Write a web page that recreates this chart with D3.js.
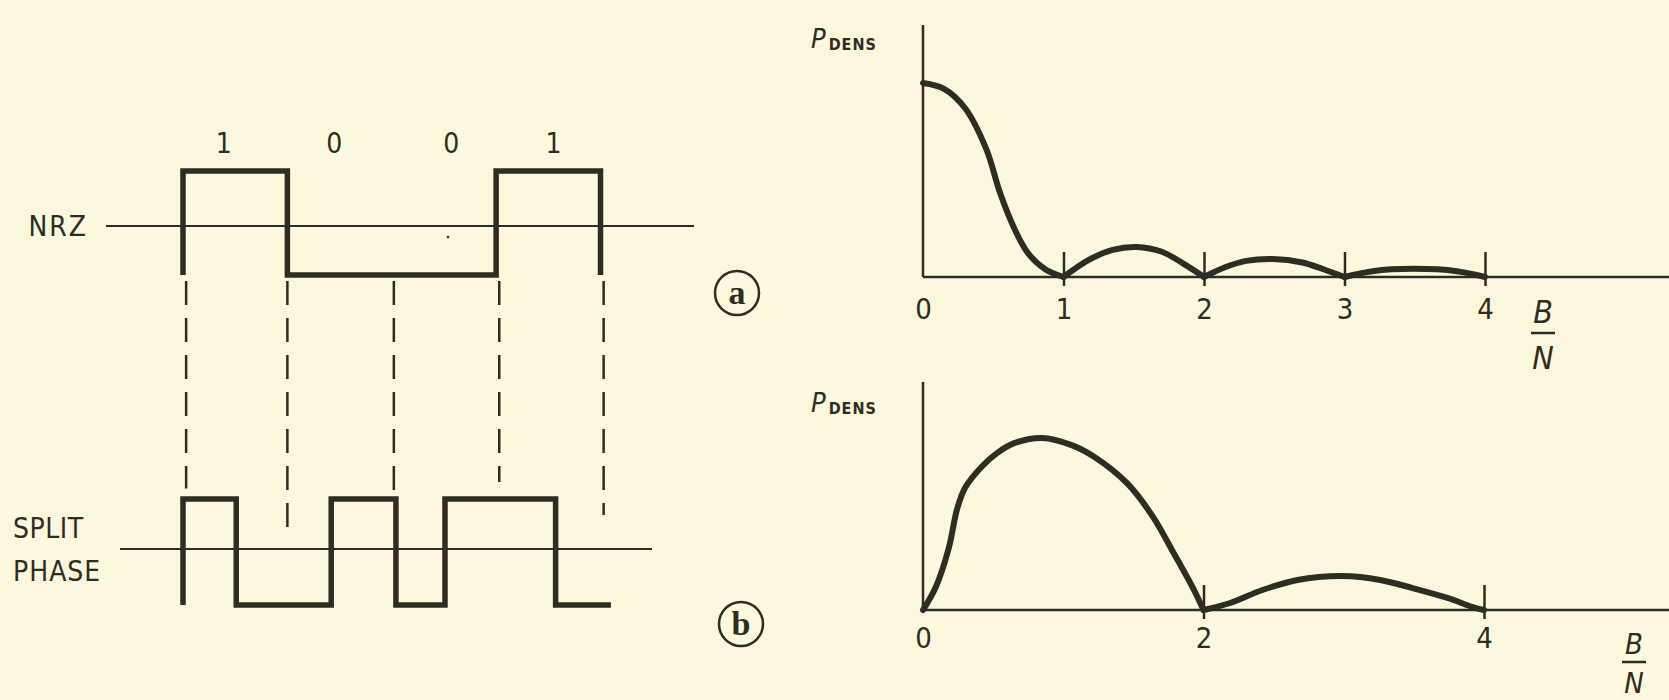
<!DOCTYPE html>
<html>
<head>
<meta charset="utf-8">
<script src="https://cdn.jsdelivr.net/npm/d3@7"></script>
<style>
  html, body { margin: 0; padding: 0; background: #fbf8dd; }
  svg { display: block; }
  text { font-family: "DejaVu Sans Condensed", "DejaVu Sans", sans-serif; fill: #2f2c22; }
</style>
</head>
<body>
<svg id="chart" width="1669" height="700"></svg>
<script>
// ---- Data -------------------------------------------------------------
// Bit sequence and where each bit label sits (in bit periods)
const bits = ["1", "0", "0", "1"];
const bitLabelPos = [0.39, 1.45, 2.57, 3.55];

// NRZ waveform: step points (time in bit periods, logic level)
const nrzTimes  = [0, 0, 1, 3, 4];
const nrzLevels = [0, 1, 0, 1, 0];

// Split-phase (Manchester) waveform
const splitTimes  = [0, 0, 0.51, 1.42, 2.04, 2.51, 3.57, 4.1];
const splitLevels = [0, 1, 0, 1, 0, 1, 0, 0];

// Dashed bit-boundary guides: time and lower end (split-phase level units)
const guideTimes     = [0.03, 1.0, 2.02, 3.03, 4.03];
const guideEndLevels = [1.1, 0.66, 1.08, 1.16, 0.85];

// Power spectral density, NRZ: lobes of (B/N, relative density)
const nrzLobes = [
  [[0, 1.0], [0.15, 0.97], [0.3, 0.87], [0.45, 0.66], [0.55, 0.43], [0.65, 0.25],
   [0.75, 0.12], [0.87, 0.04], [1.0, 0]],
  [[1.0, 0], [1.18, 0.088], [1.35, 0.14], [1.52, 0.155], [1.7, 0.13], [1.85, 0.07], [2.0, 0]],
  [[2.0, 0], [2.15, 0.05], [2.3, 0.083], [2.49, 0.093], [2.7, 0.075], [2.85, 0.04], [3.0, 0]],
  [[3.0, 0], [3.2, 0.03], [3.49, 0.042], [3.8, 0.03], [4.0, 0]]
];
const nrzTicks = [0, 1, 2, 3, 4];

// Power spectral density, split phase
const splitLobes = [
  [[0, 0], [0.092, 0.12], [0.184, 0.32], [0.243, 0.52], [0.30, 0.63], [0.42, 0.74],
   [0.53, 0.81], [0.65, 0.86], [0.85, 0.887], [1.06, 0.85], [1.22, 0.79], [1.46, 0.65],
   [1.64, 0.48], [1.79, 0.29], [1.92, 0.12], [2.0, 0]],
  [[2.0, 0], [2.19, 0.036], [2.42, 0.103], [2.67, 0.155], [2.99, 0.175], [3.26, 0.155],
   [3.49, 0.113], [3.74, 0.062], [3.92, 0.015], [4.0, 0]]
];
const splitTicks = [0, 2, 4];

// ---- Drawing ----------------------------------------------------------
const W = 1669, H = 700;
const ink = "#2f2c22";
const svg = d3.select("#chart");

// Left panel: waveforms
const t = d3.scaleLinear().domain([0, 4]).range([183, 600.5]);
const yNrz = d3.scaleLinear().domain([0, 1]).range([275, 171]);
const ySplit = d3.scaleLinear().domain([0, 1]).range([605, 499]);

const step = (ys) => d3.line()
  .x(d => t(d[0])).y(d => ys(d[1]))
  .curve(d3.curveStepAfter);

// reference (zero) lines
svg.append("line").attr("x1", 106).attr("x2", 694)
  .attr("y1", 226).attr("y2", 226)
  .attr("stroke", ink).attr("stroke-width", 2);
svg.append("line").attr("x1", 120).attr("x2", 652)
  .attr("y1", 549).attr("y2", 549)
  .attr("stroke", ink).attr("stroke-width", 2);

// dashed guides
svg.append("g").selectAll("line")
  .data(guideTimes)
  .join("line")
  .attr("x1", d => t(d)).attr("x2", d => t(d))
  .attr("y1", yNrz(0) + 6)
  .attr("y2", (d, i) => ySplit(guideEndLevels[i]))
  .attr("stroke", ink).attr("stroke-width", 2.5)
  .attr("stroke-dasharray", "24 13");

svg.append("path")
  .attr("d", step(yNrz)(nrzTimes.map((d, i) => [d, nrzLevels[i]])))
  .attr("fill", "none").attr("stroke", ink).attr("stroke-width", 5.5)
  .attr("stroke-linejoin", "miter");

svg.append("path")
  .attr("d", step(ySplit)(splitTimes.map((d, i) => [d, splitLevels[i]])))
  .attr("fill", "none").attr("stroke", ink).attr("stroke-width", 5.5)
  .attr("stroke-linejoin", "miter");

// small ink speck on the NRZ trace area
svg.append("circle").attr("cx", 448).attr("cy", 237).attr("r", 1.3).attr("fill", ink);

// labels
svg.append("g").selectAll("text")
  .data(bits).join("text")
  .attr("x", (d, i) => t(bitLabelPos[i])).attr("y", 153)
  .attr("text-anchor", "middle").attr("font-size", 28)
  .text(d => d);

svg.append("text").attr("x", 88).attr("y", 236)
  .attr("text-anchor", "end").attr("font-size", 28)
  .attr("letter-spacing", 2).text("NRZ");
svg.append("text").attr("x", 13).attr("y", 538)
  .attr("font-size", 28).attr("letter-spacing", 0.5).text("SPLIT");
svg.append("text").attr("x", 13).attr("y", 581)
  .attr("font-size", 28).attr("letter-spacing", 1).text("PHASE");

// circled panel letters
function badge(cx, cy, letter) {
  svg.append("circle").attr("cx", cx).attr("cy", cy).attr("r", 22)
    .attr("fill", "none").attr("stroke", ink).attr("stroke-width", 2.5);
  svg.append("text").attr("x", cx).attr("y", cy + 11)
    .attr("text-anchor", "middle").attr("font-size", 34)
    .attr("font-weight", "bold")
    .style("font-family", "'Liberation Serif', 'DejaVu Serif', serif")
    .text(letter);
}
badge(737, 293, "a");
badge(741, 624, "b");

// Right panels: spectra
function spectrum(opts) {
  const x = d3.scaleLinear().domain([0, 4]).range([923, opts.x4]);
  const y = d3.scaleLinear().domain([0, 1]).range([opts.base, opts.base - 194]);
  const g = svg.append("g");

  // y axis and x axis baseline
  g.append("line").attr("x1", x(0)).attr("x2", x(0))
    .attr("y1", opts.top).attr("y2", opts.base)
    .attr("stroke", ink).attr("stroke-width", 2.5);
  g.append("line").attr("x1", x(0)).attr("x2", W)
    .attr("y1", opts.base).attr("y2", opts.base)
    .attr("stroke", ink).attr("stroke-width", 2.5);

  const axis = d3.axisBottom(x)
    .tickValues(opts.ticks)
    .tickFormat(d3.format("d"))
    .tickSize(-25)
    .tickPadding(opts.pad);
  const ax = g.append("g").attr("transform", `translate(0,${opts.base})`).call(axis);
  ax.select(".domain").remove();
  ax.selectAll(".tick line")
    .attr("y1", 9)
    .attr("stroke", ink).attr("stroke-width", 2.5)
    .attr("display", d => d === 0 ? "none" : null);
  ax.selectAll(".tick text")
    .attr("fill", ink).attr("font-size", 29)
    .style("font-family", "'DejaVu Sans Condensed', 'DejaVu Sans', sans-serif");

  const line = d3.line().x(d => x(d[0])).y(d => y(d[1]))
    .curve(d3.curveCatmullRom.alpha(0.5));
  g.selectAll("path.lobe").data(opts.lobes).join("path")
    .attr("class", "lobe")
    .attr("d", line)
    .attr("fill", "none").attr("stroke", ink)
    .attr("stroke-width", 6).attr("stroke-linecap", "round");

  // P_DENS label
  const p = g.append("text").attr("x", 811).attr("y", opts.pLabel);
  p.append("tspan").attr("font-size", 27).attr("font-style", "italic").text("P");
  p.append("tspan").attr("font-size", 16).attr("font-weight", "bold")
    .attr("dx", 3).attr("dy", 2).attr("letter-spacing", 1).text("DENS");

  // B/N fraction
  g.append("text").attr("x", opts.fx).attr("y", opts.fy)
    .attr("text-anchor", "middle").attr("font-size", opts.fs).attr("font-style", "italic")
    .text("B");
  g.append("line").attr("x1", opts.fx - 12).attr("x2", opts.fx + 12)
    .attr("y1", opts.fy + opts.bar).attr("y2", opts.fy + opts.bar)
    .attr("stroke", ink).attr("stroke-width", 2.5);
  g.append("text").attr("x", opts.fx).attr("y", opts.fy + opts.nd)
    .attr("text-anchor", "middle").attr("font-size", opts.fs).attr("font-style", "italic")
    .text("N");
}

spectrum({ lobes: nrzLobes, ticks: nrzTicks, x4: 1485, base: 277, top: 25,
           pad: 21, pLabel: 48, fx: 1543, fy: 323, fs: 32, bar: 10, nd: 46 });
spectrum({ lobes: splitLobes, ticks: splitTicks, x4: 1484, base: 610, top: 382,
           pad: 17, pLabel: 412, fx: 1634, fy: 654, fs: 29, bar: 8, nd: 39 });
</script>
</body>
</html>
